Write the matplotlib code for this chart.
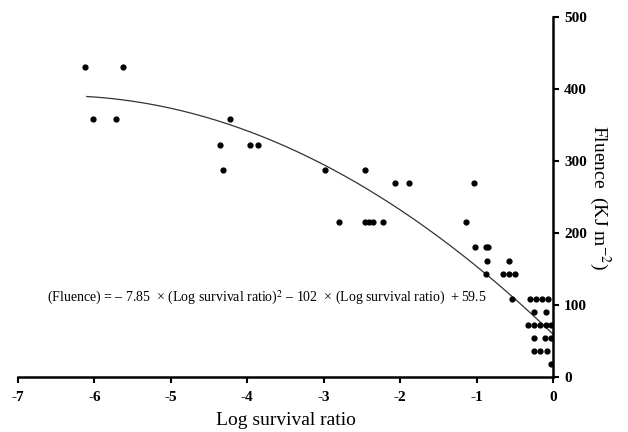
import numpy as np
import matplotlib.pyplot as plt

plt.rcParams["font.family"] = ["Liberation Serif", "DejaVu Serif"]
plt.rcParams["mathtext.fontset"] = "stix"
plt.rcParams["axes.unicode_minus"] = False

# 数据：Log survival ratio vs Fluence
log_survival = [
    -6.12, -5.62, -6.02, -5.72, -4.22,
    -4.36, -3.97, -3.86,
    -4.32, -2.98, -2.46,
    -2.07, -1.89, -1.04,
    -2.80, -2.46, -2.41, -2.35, -2.22, -1.14,
    -1.02, -0.88, -0.85,
    -0.86, -0.57,
    -0.88, -0.66, -0.57, -0.50,
    -0.54, -0.30, -0.22, -0.14, -0.07,
    -0.25, -0.09,
    -0.33, -0.25, -0.17, -0.09, -0.02,
    -0.25, -0.10, -0.02,
    -0.25, -0.17, -0.08,
    -0.02,
]
fluence = [
    430, 430, 358, 358, 358,
    322, 322, 322,
    287, 287, 287,
    269, 269, 269,
    215, 215, 215, 215, 215, 215,
    180, 180, 180,
    161, 161,
    143, 143, 143, 143,
    108, 108, 108, 108, 108,
    90, 90,
    72, 72, 72, 72, 72,
    54, 54, 54,
    36, 36, 36,
    18,
]

# 拟合曲线系数
a, b, c = -7.85, -102, 59.5
x_fit = np.linspace(-6.1, 0, 200)
y_fit = a * x_fit ** 2 + b * x_fit + c

fig = plt.figure(figsize=(6.28, 4.32), dpi=100)
ax = fig.add_axes([0.0287, 0.1273, 0.8519, 0.8333])

ax.plot(x_fit, y_fit, color="#333333", lw=0.9)
ax.scatter(log_survival, fluence, s=12, color="black", zorder=3)

ax.set_xlim(-7, 0)
ax.set_ylim(0, 500)

ax.spines["top"].set_visible(False)
ax.spines["left"].set_visible(False)
ax.spines["bottom"].set_linewidth(1.8)
ax.spines["right"].set_linewidth(1.8)

ax.yaxis.tick_right()
ax.yaxis.set_label_position("right")
ax.set_xticks(range(-7, 1))
ax.set_yticks(range(0, 501, 100))
ax.tick_params(axis="x", direction="out", length=4, width=1.5, labelsize=11, pad=6)
ax.tick_params(axis="y", direction="out", length=4, width=1.5, labelsize=11, pad=4)
for lbl in ax.get_xticklabels() + ax.get_yticklabels():
    lbl.set_fontweight("bold")

ax.set_xlabel("Log survival ratio", fontsize=14, labelpad=6)
ax.set_ylabel("Fluence  (KJ m$^{-2}$)", fontsize=14, rotation=-90, labelpad=18)

ax.text(-6.62, 110,
        "(Fluence) = \u2013 7.85  \u00d7 (Log survival ratio)$^{2}$ \u2013 102  \u00d7 (Log survival ratio)  + 59.5",
        fontsize=10, ha="left", va="center")

fig.savefig("out.png", dpi=100)
